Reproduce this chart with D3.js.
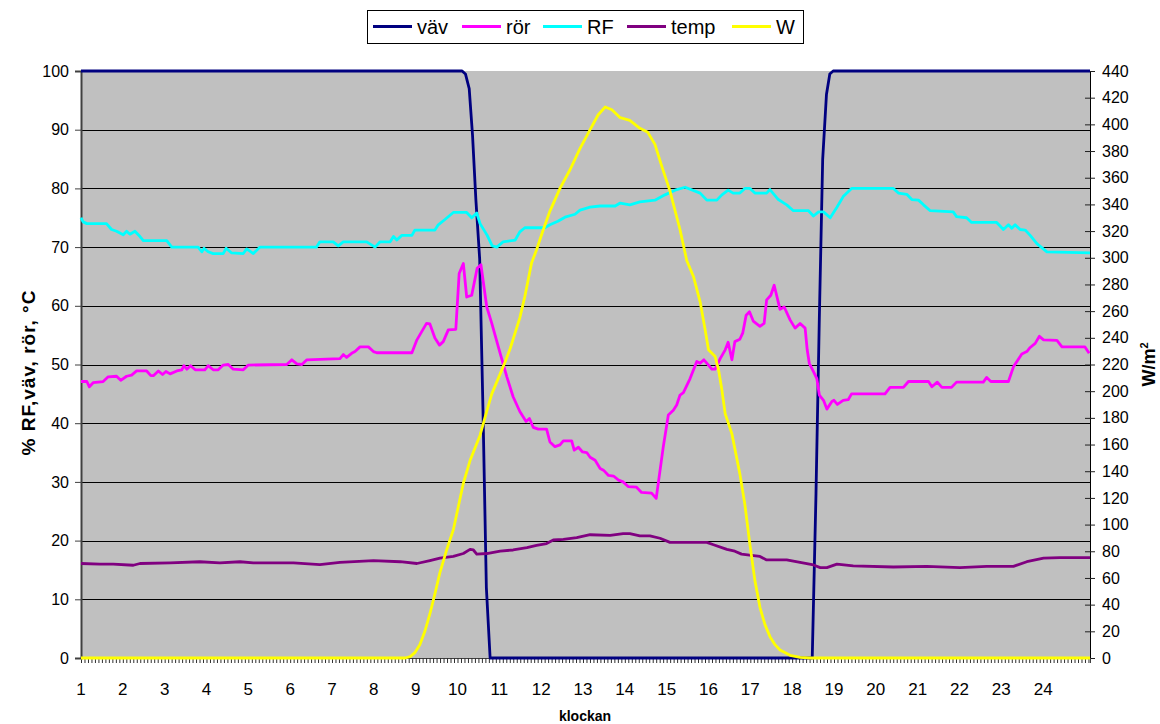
<!DOCTYPE html>
<meta charset="utf-8">
<script src="https://d3js.org/d3.v7.min.js"></script>
<style>
  body { margin: 0; background: #fff; }
  text { font-family: Arial, "Liberation Sans", sans-serif; }
</style>
<div id="chart"></div>
<script>
// hour of day (1 = 01:00) and reading
const vav = [[1,100],[10.11,100],[10.19,99.5],[10.28,97],[10.36,89],[10.44,78],[10.53,68],[10.61,42],[10.69,12],[10.78,0],
  [18.48,0],[18.57,28],[18.65,58],[18.73,85],[18.82,96],[18.90,99.5],[18.98,100],[25.12,100]];

const ror = [[1,47.1],[1.14,47.1],[1.20,46.2],[1.29,46.9],[1.53,47.1],[1.65,47.9],[1.85,48.0],[1.95,47.3],[2.09,48.0],[2.21,48.2],
  [2.33,48.9],[2.57,48.9],[2.67,48.1],[2.73,48.1],[2.85,48.9],[2.95,48.3],[3.03,48.8],[3.13,48.4],[3.29,48.9],[3.41,49.1],
  [3.46,49.8],[3.53,49.2],[3.62,49.8],[3.73,49.1],[3.96,49.1],[4.04,49.8],[4.16,49.1],[4.28,49.1],[4.40,49.9],[4.52,50.0],
  [4.64,49.2],[4.88,49.1],[5.00,49.9],[5.92,50.0],[6.04,50.8],[6.16,50.1],[6.28,50.0],[6.40,50.8],[7.19,51.0],[7.27,51.7],
  [7.35,51.2],[7.47,51.9],[7.55,52.2],[7.67,53.0],[7.87,53.0],[7.99,52.2],[8.07,52.0],[8.91,52.0],[9.03,54.2],[9.26,57.0],
  [9.34,56.9],[9.46,54.5],[9.57,53.3],[9.66,53.9],[9.78,55.9],[9.96,56.0],[10.04,65.5],[10.14,67.2],[10.22,61.5],[10.34,61.8],
  [10.47,66.4],[10.56,67.0],[10.70,59.8],[10.82,57.0],[11.02,51.9],[11.18,47.9],[11.33,44.5],[11.49,42.0],[11.64,40.3],[11.72,40.8],
  [11.81,39.3],[11.93,39.0],[12.13,39.0],[12.21,36.8],[12.33,36.0],[12.45,36.3],[12.53,37.0],[12.73,37.0],[12.79,35.4],[12.89,35.9],
  [12.99,35.1],[13.09,35.0],[13.17,34.2],[13.29,33.7],[13.41,32.3],[13.49,32.0],[13.61,31.1],[13.73,31.0],[13.85,30.3],[13.96,30.0],
  [14.08,29.2],[14.28,29.1],[14.40,28.2],[14.64,28.1],[14.75,27.2],[14.80,29.8],[14.92,36.0],[15.04,41.4],[15.16,42.2],[15.24,43.1],
  [15.32,44.8],[15.40,45.2],[15.56,47.6],[15.72,50.5],[15.80,50.2],[15.89,50.8],[16.00,49.9],[16.08,49.2],[16.16,49.2],[16.28,51.0],
  [16.40,52.5],[16.47,53.8],[16.56,50.8],[16.63,53.9],[16.75,54.3],[16.82,55.4],[16.90,58.4],[16.98,59.0],[17.07,57.4],[17.23,56.5],
  [17.33,57.0],[17.39,61.0],[17.49,61.8],[17.57,63.5],[17.71,59.4],[17.81,59.8],[17.95,57.6],[18.07,56.2],[18.19,57.0],[18.31,56.2],
  [18.36,52.5],[18.41,50.2],[18.51,48.8],[18.59,47.6],[18.65,44.8],[18.75,43.9],[18.83,42.4],[18.95,43.7],[19.00,43.9],[19.08,43.2],
  [19.22,43.9],[19.34,44.0],[19.42,45.0],[20.22,45.0],[20.34,46.1],[20.66,46.1],[20.78,47.1],[21.26,47.1],[21.34,46.2],[21.47,47.0],
  [21.58,46.1],[21.81,46.1],[21.93,47.0],[22.57,47.0],[22.65,47.8],[22.75,47.1],[23.17,47.1],[23.29,49.6],[23.49,51.8],[23.61,52.2],
  [23.69,52.9],[23.81,53.6],[23.91,54.8],[24.01,54.2],[24.33,54.1],[24.45,53.0],[25.00,53.0],[25.10,51.9]];

const rf = [[1,75.0],[1.05,74.3],[1.14,74.0],[1.61,74.0],[1.73,73.0],[1.85,72.7],[2.01,72.1],[2.09,72.7],[2.17,72.2],[2.29,72.7],
  [2.41,71.8],[2.49,71.1],[3.05,71.1],[3.17,70.0],[3.80,70.0],[3.89,69.2],[3.94,69.8],[4.04,69.2],[4.16,68.9],[4.40,68.9],
  [4.47,69.8],[4.60,69.0],[4.88,68.9],[4.96,69.7],[5.12,68.9],[5.28,70.0],[6.63,70.0],[6.71,70.9],[7.03,70.9],[7.15,70.2],
  [7.27,70.9],[7.83,70.9],[8.03,70.0],[8.15,70.9],[8.39,70.9],[8.47,71.8],[8.55,71.2],[8.67,72.0],[8.91,72.0],[8.98,72.9],
  [9.46,72.9],[9.54,73.8],[9.70,74.7],[9.90,75.9],[10.22,75.9],[10.34,75.0],[10.46,75.8],[10.54,74.0],[10.71,72.0],[10.83,70.2],
  [10.94,70.0],[11.09,70.9],[11.38,71.2],[11.49,72.6],[11.61,73.3],[12.09,73.3],[12.21,73.8],[12.40,74.4],[12.57,75.1],[12.81,75.6],
  [12.93,76.3],[13.17,76.8],[13.41,77.0],[13.77,77.0],[13.89,77.5],[14.12,77.2],[14.36,77.7],[14.72,78.0],[14.96,78.9],[15.20,79.7],
  [15.44,80.2],[15.80,79.2],[15.96,78.0],[16.20,78.0],[16.32,78.9],[16.47,79.7],[16.59,79.2],[16.75,79.2],[16.87,80.0],[16.99,80.0],
  [17.11,79.2],[17.39,79.2],[17.47,79.8],[17.67,78.1],[17.87,77.2],[18.03,76.2],[18.39,76.2],[18.51,75.3],[18.63,76.0],[18.75,76.0],
  [18.91,75.0],[19.07,76.8],[19.22,78.6],[19.42,80.0],[20.42,80.0],[20.54,79.2],[20.74,79.0],[20.86,78.1],[21.02,78.0],[21.14,77.2],
  [21.30,76.2],[21.85,76.0],[21.93,75.2],[22.17,75.0],[22.29,74.2],[22.89,74.2],[23.05,73.0],[23.17,73.8],[23.25,73.2],[23.33,73.8],
  [23.45,73.0],[23.57,72.9],[23.69,72.0],[23.85,70.6],[24.09,69.2],[25.12,69.0]];

const temp = [[1,16.1],[1.45,16.0],[1.77,16.0],[2.25,15.8],[2.41,16.1],[3.13,16.2],[3.84,16.4],[4.32,16.2],[4.80,16.4],[5.12,16.2],
  [6.08,16.2],[6.71,15.9],[7.19,16.3],[7.99,16.6],[8.63,16.4],[9.03,16.1],[9.34,16.6],[9.58,17.0],[9.90,17.3],[10.14,17.8],
  [10.30,18.5],[10.38,18.4],[10.46,17.7],[10.70,17.8],[11.02,18.2],[11.33,18.4],[11.66,18.8],[11.89,19.2],[12.13,19.5],[12.29,20.1],
  [12.53,20.2],[12.85,20.5],[13.17,21.0],[13.65,20.9],[13.96,21.2],[14.12,21.2],[14.36,20.8],[14.60,20.8],[14.84,20.4],[15.08,19.7],
  [15.96,19.7],[16.12,19.3],[16.44,18.5],[16.63,18.2],[16.79,17.7],[17.03,17.5],[17.23,17.3],[17.39,16.7],[17.87,16.7],[18.19,16.3],
  [18.51,15.85],[18.67,15.4],[18.83,15.4],[19.07,16.0],[19.46,15.7],[20.42,15.5],[21.22,15.6],[22.01,15.4],[22.65,15.6],[23.29,15.6],
  [23.61,16.4],[24.01,17.0],[24.40,17.1],[25.12,17.1]];

// irradiance, W/m2 (right axis)
const w = [[1,0],[8.75,0],[8.87,1],[8.98,4],[9.10,10],[9.22,20],[9.34,33],[9.46,48],[9.58,64],[9.73,80],[9.90,96],
  [10.14,131],[10.30,148],[10.54,167],[10.70,185],[10.82,198],[11.02,213],[11.14,222],[11.26,232],[11.49,255],[11.61,271],
  [11.77,296],[11.89,306],[12.05,321],[12.21,335],[12.45,352],[12.69,366],[12.93,382],[13.17,396],[13.36,407],[13.53,413],
  [13.69,411],[13.89,405],[14.12,403],[14.36,397],[14.55,394],[14.72,385],[14.89,368],[15.08,350],[15.32,321],[15.48,298],
  [15.64,286],[15.80,267],[15.92,246],[16.00,231],[16.16,226],[16.24,216],[16.32,201],[16.40,183],[16.56,168],[16.75,138],
  [16.87,115],[16.99,85],[17.11,58],[17.23,38],[17.35,25],[17.47,16],[17.59,10],[17.71,6],[17.95,2],[18.19,0.5],[18.43,0],[25.12,0]];

const leftTicks = d3.range(0, 101, 10);
const rightTicks = d3.range(0, 441, 20);
const hourLabels = d3.range(1, 25);

const series = [
  {name: "väv", data: vav, color: "#000080", axis: "L"},
  {name: "rör", data: ror, color: "#ff00ff", axis: "L"},
  {name: "RF", data: rf, color: "#00ffff", axis: "L"},
  {name: "temp", data: temp, color: "#800080", axis: "L"},
  {name: "W", data: w, color: "#ffff00", axis: "R"}
];

var width = 1160, height = 724;
var m = {left: 81, right: 1090, top: 71, bottom: 658};

var svg = d3.select("#chart").append("svg")
  .attr("width", width).attr("height", height);

var x = d3.scaleLinear().domain([1, 25.12]).range([m.left, m.right]);
var yL = d3.scaleLinear().domain([0, 100]).range([m.bottom, m.top]);
var yR = d3.scaleLinear().domain([0, 440]).range([m.bottom, m.top]);

// plot area
svg.append("rect")
  .attr("x", m.left).attr("y", m.top)
  .attr("width", m.right - m.left).attr("height", m.bottom - m.top)
  .attr("fill", "#c0c0c0");

// gridlines
svg.append("g").selectAll("line")
  .data(leftTicks.filter(d => d > 0 && d < 100))
  .enter().append("line")
  .attr("x1", m.left).attr("x2", m.right)
  .attr("y1", d => Math.round(yL(d)) + 0.5).attr("y2", d => Math.round(yL(d)) + 0.5)
  .attr("stroke", "#000").attr("stroke-width", 1);

// left axis
var gl = svg.append("g").attr("transform", "translate(" + m.left + ",0)")
  .call(d3.axisLeft(yL).tickValues(leftTicks).tickSize(6).tickPadding(6));
gl.select(".domain").attr("stroke", "#404040").attr("stroke-width", 2);
gl.selectAll(".tick line").attr("stroke", "#404040");
gl.selectAll("text").attr("font-size", 16).attr("fill", "#000")
  .attr("font-family", "Arial, 'Liberation Sans', sans-serif");

// right axis, ticks cross the line
var gr = svg.append("g").attr("transform", "translate(" + m.right + ",0)")
  .call(d3.axisRight(yR).tickValues(rightTicks).tickSize(5).tickPadding(7));
gr.select(".domain").attr("stroke", "#000");
gr.selectAll(".tick line").attr("x1", -5).attr("stroke", "#202020");
gr.selectAll("text").attr("font-size", 16).attr("fill", "#000")
  .attr("font-family", "Arial, 'Liberation Sans', sans-serif");

// bottom axis: a small tick every 5 minutes, hour labels
var minor = d3.range(0, 290).map(i => 1 + i / 12);
var gb = svg.append("g").attr("transform", "translate(0," + m.bottom + ")")
  .call(d3.axisBottom(x).tickValues(minor).tickSize(5).tickFormat(""));
gb.select(".domain").attr("stroke", "#404040");
gb.selectAll(".tick line").attr("stroke", "#303030");

svg.append("g").selectAll("text")
  .data(hourLabels)
  .enter().append("text")
  .attr("x", d => x(d))
  .attr("y", 695)
  .attr("text-anchor", "middle")
  .attr("font-size", 17)
  .text(d => d);

// series
var line = d3.line();
series.forEach(function (s) {
  var y = s.axis === "R" ? yR : yL;
  svg.append("path")
    .datum(s.data)
    .attr("fill", "none")
    .attr("stroke", s.color)
    .attr("stroke-width", 2.8)
    .attr("stroke-linejoin", "round")
    .attr("d", line.x(d => x(d[0])).y(d => y(d[1])));
});

// axis titles
svg.append("text")
  .attr("transform", "translate(35," + ((m.top + m.bottom) / 2 + 8) + ")rotate(-90)")
  .attr("text-anchor", "middle")
  .attr("font-size", 19).attr("font-weight", "bold")
  .attr("letter-spacing", 1)
  .text("% RF,väv, rör, °C");

var wt = svg.append("text")
  .attr("transform", "translate(1155," + ((m.top + m.bottom) / 2) + ")rotate(-90)")
  .attr("text-anchor", "middle")
  .attr("font-size", 18).attr("font-weight", "bold");
wt.append("tspan").text("W/m");
wt.append("tspan").attr("dy", -7).attr("font-size", 11).text("2");

svg.append("text")
  .attr("x", 585).attr("y", 721)
  .attr("text-anchor", "middle")
  .attr("font-size", 14).attr("font-weight", "bold")
  .text("klockan");

// legend
var legend = svg.append("g");
legend.append("rect")
  .attr("x", 367.5).attr("y", 10.5).attr("width", 436).attr("height", 33)
  .attr("fill", "#fff").attr("stroke", "#000");
var legX = [373, 462, 543, 627, 732];
var item = legend.selectAll(".item")
  .data(series)
  .enter().append("g")
  .attr("transform", (d, i) => "translate(" + legX[i] + ",0)");
item.append("line")
  .attr("x1", 0).attr("x2", 39).attr("y1", 26.5).attr("y2", 26.5)
  .attr("stroke", d => d.color).attr("stroke-width", 3);
item.append("text")
  .attr("x", 44).attr("y", 34)
  .attr("font-size", 20)
  .text(d => d.name);
</script>
